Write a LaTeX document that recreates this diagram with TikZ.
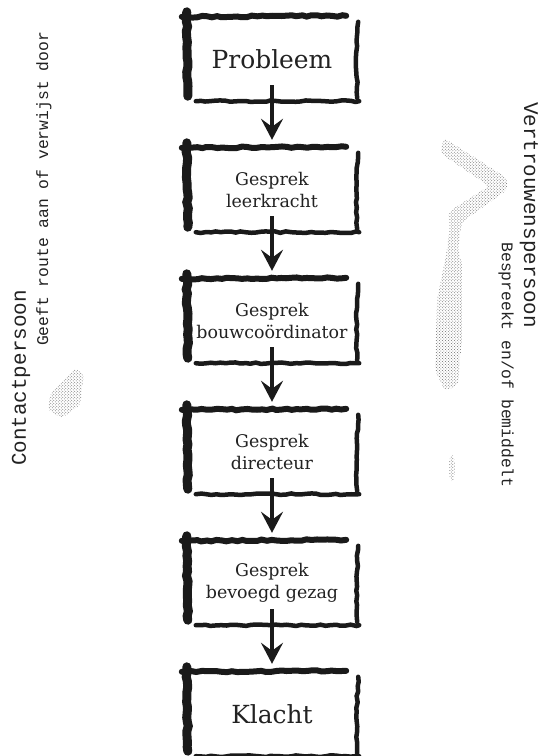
\documentclass[tikz,border=0pt]{standalone}
\usepackage{fontspec}
\setmainfont{DejaVu Serif}
\setmonofont{Liberation Mono}
\usetikzlibrary{positioning, arrows.meta, decorations.pathmorphing, patterns}
\definecolor{clrbrush}{HTML}{1A1A1A}
\definecolor{clrtext}{HTML}{222222}
\definecolor{clrfaded}{HTML}{6E6E6E}

% hand-drawn frame round a box node
\newcommand{\brushframe}[1]{%
  \draw[brush, line width=9bp] ([xshift=1bp,yshift=5bp]#1.north west) -- ([xshift=2bp,yshift=5bp]#1.south west);
  \draw[brush, line width=6bp] ([xshift=-4bp]#1.north west) -- ([xshift=-12bp,yshift=1bp]#1.north east);
  \draw[brush, line width=4.5bp] ([yshift=-5bp]#1.north east) .. controls ([xshift=-2bp,yshift=-42bp]#1.north east) .. ([xshift=-1bp,yshift=3bp]#1.south east);
  \draw[brush, line width=4.5bp] ([xshift=10bp]#1.south west) -- ([xshift=1bp]#1.south east);
}

\begin{document}
\begin{tikzpicture}[
    x=1bp, y=-1bp,
    >=Stealth,
    stepbox/.style={minimum width=172bp, minimum height=84bp, align=center,
                    text=clrtext, inner sep=2bp, fill=white},
    bigtext/.style={font=\fontsize{25}{30}\selectfont},
    smalltext/.style={font=\fontsize{17.5}{22}\selectfont},
    brush/.style={draw=clrbrush, line cap=round,
                  decorate, decoration={random steps, segment length=5bp, amplitude=0.8bp}},
    flowarrow/.style={-{Stealth[length=21bp, width=22bp, inset=8bp]}, color=clrbrush, line width=4.5bp},
    sidehead/.style={font=\ttfamily\fontsize{21}{25}\selectfont, text=clrtext, inner sep=0pt},
    sidenote/.style={font=\ttfamily\fontsize{16.4}{20}\selectfont, text=clrtext, inner sep=0pt},
    faded/.style={pattern=crosshatch dots, pattern color=clrfaded, draw=none},
]
\useasboundingbox (0,0) rectangle (540,756);
\node[stepbox, bigtext] (n_1) at (272,59) {Probleem};
\node[stepbox, smalltext, below=46.6bp of n_1] (n_2) {Gesprek\\leerkracht};
\node[stepbox, smalltext, below=46.6bp of n_2] (n_3) {Gesprek\\bouwcoördinator};
\node[stepbox, smalltext, below=46.6bp of n_3] (n_4) {Gesprek\\directeur};
\node[stepbox, smalltext, below=46.6bp of n_4] (n_5) {Gesprek\\bevoegd gezag};
\node[stepbox, bigtext, below=46.6bp of n_5] (n_6) {Klacht};
\brushframe{n_1}
\brushframe{n_2}
\brushframe{n_3}
\brushframe{n_4}
\brushframe{n_5}
\brushframe{n_6}
\draw[flowarrow] ([yshift=16bp]n_1.south) -- ([yshift=8bp]n_2.north);
\draw[flowarrow] ([yshift=16bp]n_2.south) -- ([yshift=8bp]n_3.north);
\draw[flowarrow] ([yshift=16bp]n_3.south) -- ([yshift=8bp]n_4.north);
\draw[flowarrow] ([yshift=16bp]n_4.south) -- ([yshift=8bp]n_5.north);
\draw[flowarrow] ([yshift=16bp]n_5.south) -- ([yshift=8bp]n_6.north);
\node[sidehead, rotate=90] (n_contact) at (21,378) {Contactpersoon};
\node[sidenote, rotate=90] (n_contact_note) at (44,189) {Geeft route aan of verwijst door};
\node[sidehead, rotate=-90] (n_trust) at (529,215) {Vertrouwenspersoon};
\node[sidenote, rotate=-90] (n_trust_note) at (506,365) {Bespreekt en/of bemiddelt};
% faded marks of the scan
\fill[faded, rounded corners=4bp] (444,138) -- (507,178) -- (507,190) -- (462,222) -- (458,250) -- (462,262) -- (462,340) -- (458,385) -- (445,391) -- (435,370) -- (437,300) -- (447,250) -- (450,225) -- (448,212) -- (489,186) -- (440,153) -- cycle;
\fill[faded] (452,468) ellipse (3bp and 13bp);
\fill[faded, rounded corners=3bp] (50,395) -- (75,368) -- (84,375) -- (80,405) -- (62,418) -- (48,410) -- cycle;
\end{tikzpicture}
\end{document}
